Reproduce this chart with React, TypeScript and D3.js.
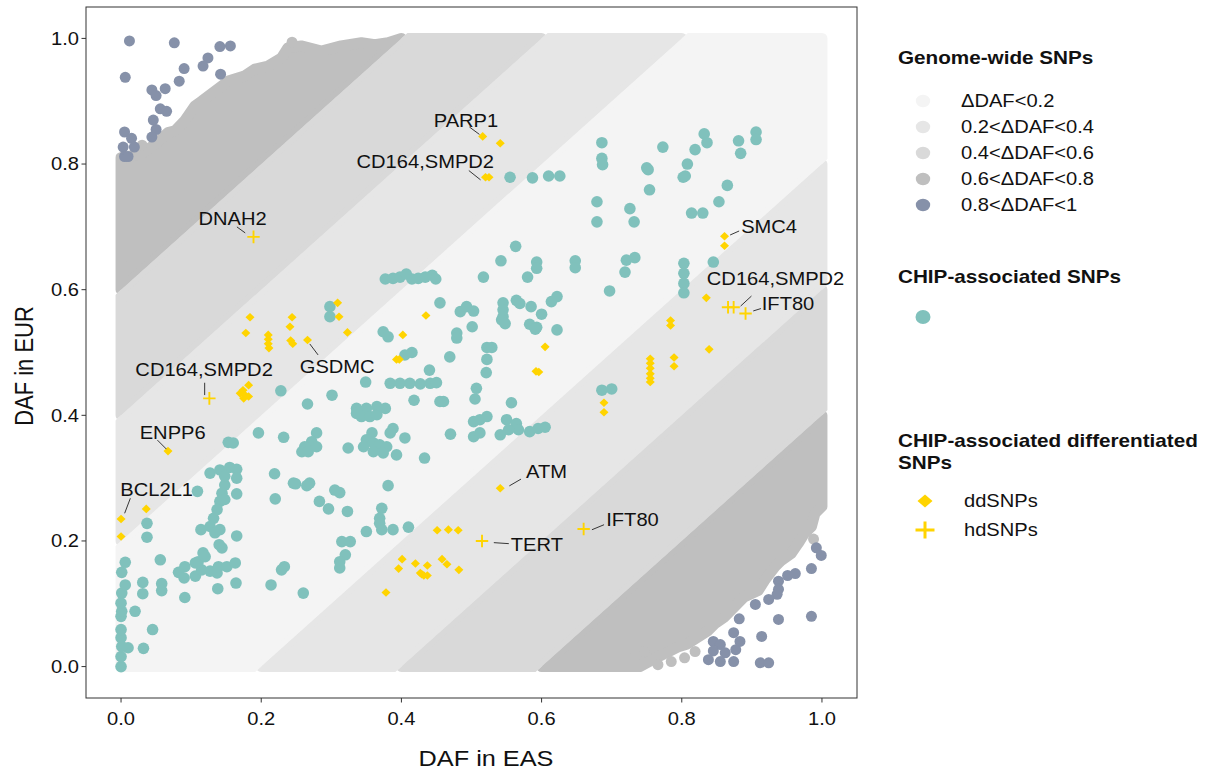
import React from 'react';
import * as d3 from 'd3';

const WIDTH = 1210;
const HEIGHT = 772;

// Genome-wide SNP classes by |DAF_EUR - DAF_EAS|
const dafBreaks = [0, 0.2, 0.4, 0.6, 0.8];
const classLabels = ['ΔDAF<0.2', '0.2<ΔDAF<0.4', '0.4<ΔDAF<0.6', '0.6<ΔDAF<0.8', '0.8<ΔDAF<1'];
const classColors = ['#f4f4f4', '#e6e6e6', '#d9d9d9', '#bfbfbf', '#8691a9'];

// Outline of the sparse 0.6–0.8 clouds (EAS, EUR)
const farCloudUpper: [number, number][] = [
  [0, 0.6], [0, 0.81], [0.029, 0.816], [0.048, 0.831], [0.067, 0.85], [0.077, 0.853], [0.091, 0.869],
  [0.105, 0.892], [0.115, 0.9], [0.134, 0.916], [0.153, 0.932], [0.176, 0.94], [0.191, 0.951],
  [0.21, 0.956], [0.229, 0.969], [0.238, 0.985], [0.257, 0.988], [0.286, 0.98], [0.314, 0.988],
  [0.343, 0.993], [0.362, 0.99], [0.381, 0.993], [0.4, 1.0],
];
const farCloudLower: [number, number][] = [
  [0.6, 0], [1, 0.4], [1, 0.255], [0.99, 0.244], [0.985, 0.223], [0.975, 0.212], [0.966, 0.196],
  [0.956, 0.18], [0.942, 0.169], [0.933, 0.159], [0.918, 0.137], [0.909, 0.121], [0.889, 0.111],
  [0.875, 0.095], [0.861, 0.079], [0.847, 0.068], [0.837, 0.057], [0.823, 0.047], [0.808, 0.036],
  [0.794, 0.031], [0.78, 0.023], [0.765, 0.015], [0.74, 0],
];
// Scattered SNPs at the edge of the 0.6–0.8 clouds
const farCloudStray: [number, number][] = [
  [0.819, 0.024], [0.785, 0.008], [0.766, 0.003], [0.733, 0.017], [0.747, 0.024], [0.804, 0.014],
  [0.988, 0.203], [0.244, 0.994], [0.03, 0.83],
];
// ΔDAF > 0.8 SNPs
const extremeSnps: [number, number][] = [
  [0.012, 0.996], [0.076, 0.993], [0.141, 0.987], [0.156, 0.988], [0.006, 0.938], [0.124, 0.969],
  [0.117, 0.956], [0.09, 0.952], [0.083, 0.932], [0.142, 0.943], [0.044, 0.918], [0.063, 0.92],
  [0.05, 0.909], [0.056, 0.888], [0.065, 0.884], [0.046, 0.87], [0.05, 0.855], [0.044, 0.843],
  [0.005, 0.851], [0.015, 0.841], [0.003, 0.827], [0.019, 0.827], [0.005, 0.812], [0.01, 0.812],
  [0.992, 0.189], [0.999, 0.177], [0.985, 0.156], [0.951, 0.145], [0.962, 0.148], [0.938, 0.136],
  [0.938, 0.123], [0.936, 0.115], [0.924, 0.107], [0.905, 0.099], [0.882, 0.076], [0.938, 0.075],
  [0.985, 0.08], [0.874, 0.054], [0.914, 0.048], [0.883, 0.04], [0.845, 0.04], [0.855, 0.035],
  [0.877, 0.027], [0.845, 0.025], [0.862, 0.022], [0.838, 0.011], [0.855, 0.008], [0.874, 0.008],
  [0.912, 0.006], [0.924, 0.006],
];

// CHIP-associated SNPs (DAF in EAS, DAF in EUR)
const chipSnps: [number, number][] = [
  [0, 0], [0, 0.016], [0.01, 0.03], [0.001, 0.032], [0, 0.046], [0, 0.059], [0.032, 0.029], [0.045, 0.059],
  [0.02, 0.088], [0, 0.08], [0.001, 0.088], [0, 0.101], [0.001, 0.117], [0.006, 0.13], [0.001, 0.15],
  [0.006, 0.166], [0.031, 0.134], [0.031, 0.116], [0.058, 0.132], [0.058, 0.121], [0.056, 0.17],
  [0.091, 0.11], [0.037, 0.228], [0.037, 0.206], [0.091, 0.159], [0.082, 0.15], [0.09, 0.141],
  [0.106, 0.144], [0.115, 0.154], [0.127, 0.152], [0.137, 0.149], [0.139, 0.159], [0.151, 0.159],
  [0.163, 0.165], [0.106, 0.165], [0.11, 0.167], [0.117, 0.181], [0.12, 0.175], [0.14, 0.194],
  [0.144, 0.189], [0.132, 0.236], [0.127, 0.223], [0.134, 0.213], [0.141, 0.218], [0.114, 0.218],
  [0.165, 0.208], [0.148, 0.289], [0.144, 0.276], [0.141, 0.263], [0.137, 0.25], [0.148, 0.266],
  [0.109, 0.279], [0.165, 0.275], [0.127, 0.308], [0.141, 0.313], [0.155, 0.317], [0.165, 0.314],
  [0.165, 0.3], [0.148, 0.303], [0.138, 0.124], [0.164, 0.133], [0.214, 0.13], [0.229, 0.154],
  [0.233, 0.159], [0.153, 0.357], [0.16, 0.356], [0.196, 0.372], [0.232, 0.365], [0.219, 0.307],
  [0.246, 0.292], [0.22, 0.267], [0.26, 0.117],
  [0.249, 0.291], [0.265, 0.288], [0.269, 0.292], [0.305, 0.281], [0.312, 0.277], [0.283, 0.263],
  [0.296, 0.251], [0.323, 0.247], [0.381, 0.288], [0.372, 0.252], [0.369, 0.236], [0.372, 0.218],
  [0.369, 0.228], [0.35, 0.215], [0.388, 0.218], [0.41, 0.222], [0.315, 0.199], [0.327, 0.199],
  [0.32, 0.178], [0.312, 0.167], [0.312, 0.157],
  [0.228, 0.439], [0.266, 0.418], [0.301, 0.432], [0.279, 0.372], [0.272, 0.358], [0.262, 0.35],
  [0.258, 0.342], [0.267, 0.342], [0.279, 0.35], [0.324, 0.348], [0.336, 0.411], [0.35, 0.411],
  [0.365, 0.414], [0.377, 0.411], [0.336, 0.403], [0.343, 0.398], [0.355, 0.398], [0.365, 0.401],
  [0.388, 0.379], [0.384, 0.372], [0.358, 0.372], [0.35, 0.361], [0.36, 0.356], [0.369, 0.353],
  [0.379, 0.35], [0.374, 0.34], [0.36, 0.342], [0.346, 0.35], [0.405, 0.364], [0.393, 0.337],
  [0.433, 0.332], [0.418, 0.424],
  [0.349, 0.453], [0.384, 0.451], [0.398, 0.451], [0.412, 0.451], [0.427, 0.45], [0.441, 0.451],
  [0.45, 0.452], [0.44, 0.472], [0.374, 0.533], [0.381, 0.525], [0.405, 0.496], [0.415, 0.5],
  [0.298, 0.573], [0.298, 0.557], [0.455, 0.579],
  [0.377, 0.617], [0.388, 0.618], [0.398, 0.62], [0.407, 0.625], [0.415, 0.617], [0.424, 0.618],
  [0.434, 0.62], [0.444, 0.623], [0.449, 0.617],
  [0.484, 0.565], [0.493, 0.573], [0.503, 0.566], [0.545, 0.579], [0.545, 0.568], [0.545, 0.557],
  [0.543, 0.552], [0.548, 0.546], [0.564, 0.583], [0.569, 0.578], [0.585, 0.573], [0.6, 0.561],
  [0.614, 0.581], [0.622, 0.589], [0.583, 0.545], [0.593, 0.54], [0.591, 0.537], [0.622, 0.536],
  [0.501, 0.541], [0.479, 0.531], [0.479, 0.523], [0.522, 0.508], [0.529, 0.508], [0.522, 0.489],
  [0.521, 0.468], [0.469, 0.493], [0.507, 0.443], [0.505, 0.426], [0.455, 0.422], [0.46, 0.422],
  [0.557, 0.42], [0.503, 0.39], [0.512, 0.393], [0.522, 0.398], [0.503, 0.366], [0.512, 0.372],
  [0.47, 0.37], [0.55, 0.393], [0.564, 0.387], [0.567, 0.377], [0.553, 0.377], [0.541, 0.369],
  [0.583, 0.374], [0.595, 0.379], [0.605, 0.381], [0.686, 0.44], [0.7, 0.442], [0.563, 0.669],
  [0.542, 0.646], [0.593, 0.644], [0.593, 0.634], [0.648, 0.646], [0.648, 0.635], [0.517, 0.62],
  [0.58, 0.62],
  [0.555, 0.779], [0.587, 0.778], [0.61, 0.781], [0.626, 0.781], [0.686, 0.834], [0.686, 0.809],
  [0.687, 0.799], [0.773, 0.827], [0.75, 0.794], [0.752, 0.791], [0.754, 0.759], [0.808, 0.8],
  [0.802, 0.779], [0.805, 0.781], [0.819, 0.823], [0.832, 0.848], [0.836, 0.834], [0.881, 0.837],
  [0.884, 0.817], [0.906, 0.851], [0.906, 0.839], [0.865, 0.766], [0.853, 0.74], [0.814, 0.722],
  [0.83, 0.722], [0.679, 0.74], [0.679, 0.708], [0.726, 0.729], [0.732, 0.708], [0.721, 0.647],
  [0.733, 0.651], [0.719, 0.628], [0.697, 0.598], [0.803, 0.642], [0.803, 0.626], [0.803, 0.61],
  [0.803, 0.595], [0.845, 0.644],
];

// CHIP-associated differentiated SNPs
const ddSnps: [number, number][] = [
  [0.516, 0.844], [0.541, 0.833], [0.52, 0.779], [0.525, 0.779], [0.861, 0.685], [0.861, 0.67],
  [0.835, 0.587], [0.266, 0.52], [0.067, 0.343], [0, 0.235], [0, 0.207], [0.036, 0.251], [0.541, 0.284],
  [0.184, 0.556], [0.178, 0.531], [0.244, 0.556], [0.241, 0.541], [0.242, 0.519], [0.245, 0.514],
  [0.21, 0.528], [0.21, 0.521], [0.21, 0.514], [0.211, 0.507], [0.309, 0.579], [0.311, 0.557],
  [0.323, 0.532], [0.174, 0.44], [0.182, 0.448], [0.177, 0.432], [0.17, 0.435], [0.182, 0.43],
  [0.175, 0.427], [0.435, 0.559], [0.402, 0.528], [0.393, 0.489], [0.397, 0.489], [0.605, 0.509],
  [0.592, 0.47], [0.596, 0.469], [0.784, 0.551], [0.784, 0.543], [0.839, 0.505], [0.755, 0.49],
  [0.755, 0.483], [0.755, 0.475], [0.755, 0.466], [0.755, 0.459], [0.755, 0.453], [0.789, 0.492],
  [0.789, 0.478], [0.689, 0.42], [0.689, 0.405], [0.451, 0.217], [0.467, 0.218], [0.481, 0.217],
  [0.401, 0.171], [0.396, 0.156], [0.42, 0.164], [0.437, 0.161], [0.429, 0.147], [0.437, 0.145],
  [0.427, 0.149], [0.432, 0.145], [0.458, 0.171], [0.465, 0.163], [0.482, 0.154], [0.378, 0.118],
];
const hdSnps: [number, number][] = [
  [0.189, 0.684], [0.126, 0.427], [0.866, 0.572], [0.874, 0.572], [0.891, 0.562], [0.515, 0.2], [0.66, 0.219],
];

// Annotated genes
const geneLabels = [
  { gene: 'PARP1', eas: 0.516, eur: 0.844 },
  { gene: 'CD164,SMPD2', eas: 0.52, eur: 0.779 },
  { gene: 'DNAH2', eas: 0.189, eur: 0.684 },
  { gene: 'SMC4', eas: 0.861, eur: 0.685 },
  { gene: 'CD164,SMPD2', eas: 0.874, eur: 0.572 },
  { gene: 'IFT80', eas: 0.891, eur: 0.562 },
  { gene: 'GSDMC', eas: 0.266, eur: 0.52 },
  { gene: 'CD164,SMPD2', eas: 0.126, eur: 0.427 },
  { gene: 'ENPP6', eas: 0.067, eur: 0.343 },
  { gene: 'BCL2L1', eas: 0, eur: 0.235 },
  { gene: 'ATM', eas: 0.541, eur: 0.284 },
  { gene: 'TERT', eas: 0.515, eur: 0.2 },
  { gene: 'IFT80', eas: 0.66, eur: 0.219 },
];

const axisTicks = [0, 0.2, 0.4, 0.6, 0.8, 1.0];

// Repelled label placement (pixel offsets from the point): text anchor, segment start, segment end
const labelNudges = [
  { tx: -49, ty: -9.5, anchor: 'start', s: [-3.3, -2], e: [-13.3, -9.4] },
  { tx: 8.5, ty: -9.2, anchor: 'end', s: [-5, 2.6], e: [-16.7, -6.7] },
  { tx: -55, ty: -11.7, anchor: 'start', s: [-8.3, -4], e: [-16.6, -10] },
  { tx: 16.6, ty: -3.1, anchor: 'start', s: [5.6, -1.3], e: [14.6, -5.3] },
  { tx: -26.8, ty: -22.2, anchor: 'start', s: [7, -1.2], e: [17.8, -11.2] },
  { tx: 16.2, ty: -3.3, anchor: 'start', s: [7.7, -2.6], e: [15.4, -5] },
  { tx: -7.7, ty: 32.7, anchor: 'start', s: [2.3, 4], e: [10.6, 15] },
  { tx: -74, ty: -22.3, anchor: 'start', s: [-4.7, -3.3], e: [-4.7, -15.6] },
  { tx: -28.3, ty: -11.7, anchor: 'start', s: [-1.6, -2], e: [-10.6, -11] },
  { tx: -0.7, ty: -23.3, anchor: 'start', s: [3.6, -5.7], e: [9.3, -20.7] },
  { tx: 25.8, ty: -10.1, anchor: 'start', s: [9.1, -2.3], e: [20.8, -9.1] },
  { tx: 28.8, ty: 10, anchor: 'start', s: [11.8, 1.7], e: [26.8, 2.7] },
  { tx: 22.6, ty: -3.3, anchor: 'start', s: [8.3, 0.7], e: [20.4, -4.3] },
];

const FONT = "'Liberation Sans', Arial, Helvetica, sans-serif";
const STRETCH = 1.15;
const TEAL = '#80c1bc';
const GOLD = '#ffd400';

type TxtProps = {
  x: number; y: number; size: number; anchor?: string; weight?: string | number; rotate?: number;
  children: React.ReactNode;
};
function Txt({ x, y, size, anchor = 'start', weight = 'normal', rotate = 0, children }: TxtProps) {
  return (
    <text
      transform={`translate(${x},${y}) scale(${STRETCH},1)${rotate ? ` rotate(${rotate})` : ''}`}
      fontSize={size}
      fontWeight={weight}
      textAnchor={anchor}
      fill="#111"
      fontFamily={FONT}
    >
      {children}
    </text>
  );
}

const diamondPath = (cx: number, cy: number, w: number, h: number) =>
  `M${cx},${cy - h}L${cx + w},${cy}L${cx},${cy + h}L${cx - w},${cy}Z`;
const plusPath = (cx: number, cy: number, w: number, h: number) =>
  `M${cx - w},${cy}H${cx + w}M${cx},${cy - h}V${cy + h}`;

export default function App() {
  const x = d3.scaleLinear().domain([-0.05, 1.05]).range([86, 857]);
  const y = d3.scaleLinear().domain([-0.05, 1.05]).range([698, 7]);

  const line = d3
    .line<[number, number]>()
    .x((d) => x(d[0]))
    .y((d) => y(d[1]));
  const closed = (pts: [number, number][]) => (line(pts) || '') + 'Z';

  // strip of y - x between lo and hi, far beyond the unit square
  const strip = (lo: number, hi: number): [number, number][] => [
    [-1, -1 + lo], [2, 2 + lo], [2, 2 + hi], [-1, -1 + hi],
  ];

  const b1 = dafBreaks[1];
  type Band = { color: string; poly: [number, number][]; clip: [number, number][] };
  const bands: Band[] = [
    {
      color: classColors[0],
      poly: [[0, 0], [b1, 0], [1, 1 - b1], [1, 1], [1 - b1, 1], [0, b1]],
      clip: strip(-b1, b1),
    },
  ];
  for (let k = 1; k <= 2; k++) {
    const lo = dafBreaks[k];
    const hi = dafBreaks[k + 1];
    bands.push({ color: classColors[k], poly: [[0, lo], [0, hi], [1 - hi, 1], [1 - lo, 1]], clip: strip(lo, hi) });
    bands.push({ color: classColors[k], poly: [[lo, 0], [hi, 0], [1, 1 - hi], [1, 1 - lo]], clip: strip(-hi, -lo) });
  }
  bands.push({ color: classColors[3], poly: farCloudUpper, clip: strip(dafBreaks[3], 3) });
  bands.push({ color: classColors[3], poly: farCloudLower, clip: strip(-3, -dafBreaks[3]) });

  const legendX = 898;
  const keyX = 923;

  return (
    <svg
      width={WIDTH}
      height={HEIGHT}
      viewBox={`0 0 ${WIDTH} ${HEIGHT}`}
      style={{ position: 'absolute', left: 0, top: 0, background: '#fff' }}
    >
      <defs>
        {bands.map((b, i) => (
          <clipPath id={`band-clip-${i}`} key={i}>
            <path d={closed(b.clip)} />
          </clipPath>
        ))}
      </defs>
      <rect x={0} y={0} width={WIDTH} height={HEIGHT} fill="#fff" />

      {/* genome-wide SNP density */}
      <g>
        {bands.map((b, i) => (
          <path
            key={i}
            d={closed(b.poly)}
            fill={b.color}
            stroke={b.color}
            strokeWidth={11}
            strokeLinejoin="round"
            clipPath={`url(#band-clip-${i})`}
          />
        ))}
        {farCloudStray.map((d, i) => (
          <circle key={i} cx={x(d[0])} cy={y(d[1])} r={5.5} fill={classColors[3]} />
        ))}
        {extremeSnps.map((d, i) => (
          <circle key={i} cx={x(d[0])} cy={y(d[1])} r={5.5} fill={classColors[4]} />
        ))}
      </g>

      {/* CHIP-associated SNPs */}
      <g>
        {chipSnps.map((d, i) => (
          <circle key={i} cx={x(d[0])} cy={y(d[1])} r={5.8} fill={TEAL} />
        ))}
      </g>

      {/* differentiated SNPs */}
      <g>
        {ddSnps.map((d, i) => (
          <path key={i} d={diamondPath(x(d[0]), y(d[1]), 4.5, 4.3)} fill={GOLD} />
        ))}
        {hdSnps.map((d, i) => (
          <path key={i} d={plusPath(x(d[0]), y(d[1]), 6.2, 6.3)} stroke={GOLD} strokeWidth={1.9} fill="none" />
        ))}
      </g>

      {/* gene annotations */}
      <g>
        {geneLabels.map((g, i) => {
          const n = labelNudges[i];
          const px = x(g.eas);
          const py = y(g.eur);
          return (
            <g key={i}>
              <line
                x1={px + n.s[0]}
                y1={py + n.s[1]}
                x2={px + n.e[0]}
                y2={py + n.e[1]}
                stroke="#222"
                strokeWidth={0.9}
              />
              <Txt x={px + n.tx} y={py + n.ty} size={17.5} anchor={n.anchor}>
                {g.gene}
              </Txt>
            </g>
          );
        })}
      </g>

      {/* panel border */}
      <rect x={86} y={7} width={771} height={691} fill="none" stroke="#333" strokeWidth={1} />

      {/* axes */}
      <g>
        {axisTicks.map((t) => (
          <g key={`x${t}`}>
            <line x1={x(t)} x2={x(t)} y1={698} y2={702.5} stroke="#333" strokeWidth={1} />
            <Txt x={x(t)} y={725} size={17.5} anchor="middle">
              {d3.format('.1f')(t)}
            </Txt>
          </g>
        ))}
        {axisTicks.map((t) => (
          <g key={`y${t}`}>
            <line x1={81.5} x2={86} y1={y(t)} y2={y(t)} stroke="#333" strokeWidth={1} />
            <Txt x={79} y={y(t) + 6.2} size={17.5} anchor="end">
              {d3.format('.1f')(t)}
            </Txt>
          </g>
        ))}
        <Txt x={486} y={766} size={22} anchor="middle">
          DAF in EAS
        </Txt>
        <Txt x={33} y={366} size={22} anchor="middle" rotate={-90}>
          DAF in EUR
        </Txt>
      </g>

      {/* legend */}
      <g>
        <Txt x={legendX} y={64} size={18} weight="bold">
          Genome-wide SNPs
        </Txt>
        {classLabels.map((lab, i) => (
          <g key={lab}>
            <ellipse cx={keyX} cy={101 + i * 26} rx={7.2} ry={6.2} fill={classColors[i]} />
            <Txt x={961} y={107 + i * 26} size={17.5}>
              {lab}
            </Txt>
          </g>
        ))}
        <Txt x={legendX} y={283} size={18} weight="bold">
          CHIP-associated SNPs
        </Txt>
        <ellipse cx={keyX} cy={317} rx={7.5} ry={7} fill={TEAL} />
        <Txt x={legendX} y={447} size={18} weight="bold">
          CHIP-associated differentiated
        </Txt>
        <Txt x={legendX} y={469} size={18} weight="bold">
          SNPs
        </Txt>
        <path d={diamondPath(925, 501, 7.5, 6.5)} fill={GOLD} />
        <Txt x={964} y={507} size={17.5}>
          ddSNPs
        </Txt>
        <path d={plusPath(925, 530, 9.5, 8.5)} stroke={GOLD} strokeWidth={3} fill="none" />
        <Txt x={964} y={536} size={17.5}>
          hdSNPs
        </Txt>
      </g>
    </svg>
  );
}
